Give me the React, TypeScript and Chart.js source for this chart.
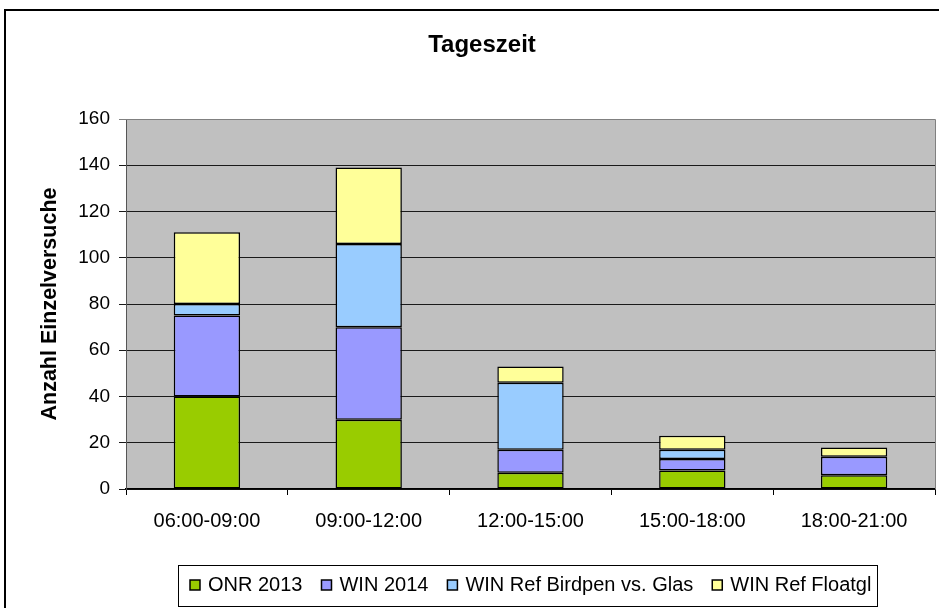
import React, { useEffect, useRef } from "react";
import { Chart, registerables } from "chart.js";

Chart.register(...registerables);

const categories = ["06:00-09:00", "09:00-12:00", "12:00-15:00", "15:00-18:00", "18:00-21:00"];
const seriesNames = ["ONR 2013", "WIN 2014", "WIN Ref Birdpen vs. Glas", "WIN Ref Floatgl"];
const onr2013 = [40, 30, 7, 8, 6];
const win2014 = [35, 40, 10, 5, 8];
const winRefBirdpen = [5, 36, 29, 4, 0];
const winRefFloatgl = [31, 33, 7, 6, 4];
const seriesColors = ["#99CC00", "#9999FF", "#99CCFF", "#FFFF99"];
const yTicks = [0, 20, 40, 60, 80, 100, 120, 140, 160];
const chartTitle = "Tageszeit";
const yTitle = "Anzahl Einzelversuche";

const FONT = "'Liberation Sans', Arial, sans-serif";

const framePlugin = {
  id: "frame",
  beforeDraw(chart: any) {
    const { ctx, chartArea } = chart;
    ctx.save();
    ctx.fillStyle = "#FFFFFF";
    ctx.fillRect(0, 0, chart.width, chart.height);
    ctx.fillStyle = "#C0C0C0";
    ctx.fillRect(chartArea.left, chartArea.top, chartArea.right - chartArea.left, chartArea.bottom - chartArea.top);
    ctx.restore();
  },
  afterDraw(chart: any) {
    const { ctx, chartArea } = chart;
    ctx.save();
    // plot area top/right border
    ctx.strokeStyle = "#808080";
    ctx.lineWidth = 1;
    ctx.beginPath();
    ctx.moveTo(chartArea.left, chartArea.top + 0.5);
    ctx.lineTo(chartArea.right + 0.5, chartArea.top + 0.5);
    ctx.lineTo(chartArea.right + 0.5, chartArea.bottom);
    ctx.stroke();
    // outer chart border
    ctx.strokeStyle = "#000";
    ctx.lineWidth = 2;
    ctx.beginPath();
    ctx.moveTo(5, chart.height + 5);
    ctx.lineTo(5, 10);
    ctx.lineTo(chart.width + 5, 10);
    ctx.stroke();
    // legend
    const bx = 178, by = 565, bw = 699, bh = 41;
    ctx.fillStyle = "#FFFFFF";
    ctx.fillRect(bx, by, bw, bh);
    ctx.strokeStyle = "#000";
    ctx.lineWidth = 1;
    ctx.strokeRect(bx + 0.5, by + 0.5, bw, bh);
    ctx.font = `20px ${FONT}`;
    ctx.textBaseline = "middle";
    ctx.textAlign = "left";
    let x = 190;
    const cy = 585;
    chart.data.datasets.forEach((ds: any) => {
      ctx.fillStyle = ds.backgroundColor;
      ctx.fillRect(x, cy - 5, 10, 10);
      ctx.strokeStyle = "#000";
      ctx.lineWidth = 1.5;
      ctx.strokeRect(x, cy - 5, 10, 10);
      ctx.fillStyle = "#000";
      ctx.fillText(ds.label, x + 18, cy);
      x += 18 + ctx.measureText(ds.label).width + 19;
    });
    ctx.restore();
  },
};

export default function App() {
  const ref = useRef<HTMLCanvasElement | null>(null);
  useEffect(() => {
    if (!ref.current) return;
    const values = [onr2013, win2014, winRefBirdpen, winRefFloatgl];
    const chart = new Chart(ref.current, {
      type: "bar",
      data: {
        labels: categories,
        datasets: seriesNames.map((name, i) => ({
          label: name,
          data: values[i],
          backgroundColor: seriesColors[i],
          borderColor: "#000000",
          borderWidth: 1.5,
          borderSkipped: false,
          categoryPercentage: 1,
          barPercentage: 0.41,
        })),
      },
      options: {
        animation: false,
        responsive: false,
        maintainAspectRatio: false,
        layout: { padding: { left: 29, right: 4, top: 0, bottom: 0 } },
        plugins: {
          legend: { display: false },
          tooltip: { enabled: false },
          title: {
            display: true,
            text: chartTitle,
            color: "#000",
            font: { family: FONT, size: 24, weight: "bold" },
            padding: { top: 31, bottom: 59.2 },
          },
        },
        scales: {
          x: {
            stacked: true,
            offset: true,
            afterFit(scale: any) {
              scale.height = 119;
            },
            grid: {
              offset: true,
              drawOnChartArea: false,
              tickLength: 6,
              color: "#000",
            },
            border: { display: true, color: "#000", width: 1.5 },
            ticks: {
              color: "#000",
              font: { family: FONT, size: 20 },
              padding: 14,
              maxRotation: 0,
            },
          },
          y: {
            stacked: true,
            min: 0,
            max: 160,
            afterFit(scale: any) {
              scale.width = 97;
            },
            afterBuildTicks(scale: any) {
              scale.ticks = yTicks.map((v) => ({ value: v }));
            },
            grid: {
              color: (c: any) => (c.tick && c.tick.value === 160 ? "#808080" : "#1a1a1a"),
              tickLength: 7,
              lineWidth: 1,
            },
            border: { display: true, color: "#555", width: 1 },
            ticks: {
              color: "#000",
              font: { family: FONT, size: 19 },
              padding: 9,
            },
            title: {
              display: true,
              text: yTitle,
              color: "#000",
              font: { family: FONT, size: 21.5, weight: "bold" },
              padding: { top: 8, bottom: 0 },
            },
          },
        },
      },
      plugins: [framePlugin],
    });
    return () => chart.destroy();
  }, []);
  return (
    <div style={{ position: "fixed", left: 0, top: 0, width: 939, height: 608, overflow: "hidden", background: "#fff" }}>
      <canvas ref={ref} width={939} height={608} style={{ width: 939, height: 608, display: "block" }} />
    </div>
  );
}
